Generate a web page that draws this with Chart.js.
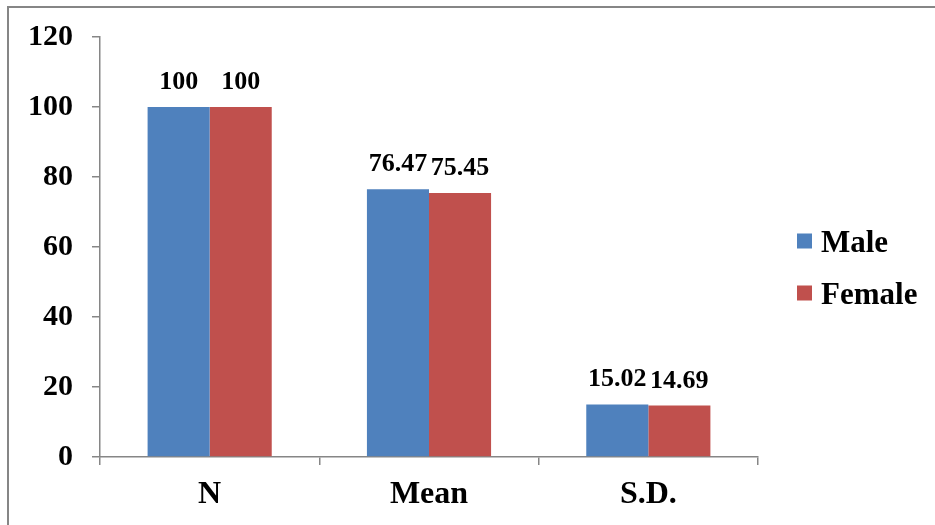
<!DOCTYPE html>
<html>
<head>
<meta charset="utf-8">
<script src="https://cdn.jsdelivr.net/npm/chart.js@4/dist/chart.umd.min.js"></script>
<style>
  html, body { margin: 0; padding: 0; background: #ffffff; }
  #wrap { width: 935px; height: 525px; position: relative; }
</style>
</head>
<body>
<div id="wrap"><canvas id="c" width="935" height="525"></canvas></div>
<script>
const categories = ["N", "Mean", "S.D."];
const maleValues = [100, 76.47, 15.02];
const femaleValues = [100, 75.45, 14.69];
const seriesNames = ["Male", "Female"];
const yTicks = [0, 20, 40, 60, 80, 100, 120];

const MALE_COLOR = "#4F81BD";
const FEMALE_COLOR = "#C0504D";
const AXIS_COLOR = "#868686";
const SERIF = "'Liberation Serif', 'Times New Roman', serif";

const framePlugin = {
  id: "frame",
  beforeDraw(chart) {
    const ctx = chart.ctx;
    ctx.save();
    ctx.fillStyle = "#ffffff";
    ctx.fillRect(0, 0, chart.width, chart.height);
    ctx.strokeStyle = AXIS_COLOR;
    ctx.lineWidth = 2;
    ctx.strokeRect(8, 7, chart.width + 20, chart.height + 20);
    ctx.restore();
  }
};

const valueLabelPlugin = {
  id: "valueLabels",
  afterDatasetsDraw(chart) {
    const ctx = chart.ctx;
    ctx.save();
    ctx.font = "bold 26px " + SERIF;
    ctx.fillStyle = "#000000";
    ctx.textAlign = "center";
    ctx.textBaseline = "alphabetic";
    chart.data.datasets.forEach((ds, i) => {
      const meta = chart.getDatasetMeta(i);
      meta.data.forEach((el, j) => {
        ctx.fillText(String(ds.data[j]), el.x, el.y - 18);
      });
    });
    ctx.restore();
  }
};

const legendPlugin = {
  id: "customLegend",
  afterDraw(chart) {
    const ctx = chart.ctx;
    ctx.save();
    ctx.font = "bold 31px " + SERIF;
    ctx.textAlign = "left";
    ctx.textBaseline = "alphabetic";
    const startY = 241;
    const step = 52;
    chart.data.datasets.forEach((ds, i) => {
      const cy = startY + i * step;
      ctx.fillStyle = ds.backgroundColor;
      ctx.fillRect(797, cy - 7.5, 15, 15);
      ctx.fillStyle = "#000000";
      ctx.fillText(ds.label, 821, cy + 11);
    });
    ctx.restore();
  }
};

new Chart(document.getElementById("c"), {
  type: "bar",
  data: {
    labels: categories,
    datasets: [
      { label: seriesNames[0], data: maleValues, backgroundColor: MALE_COLOR, borderWidth: 0 },
      { label: seriesNames[1], data: femaleValues, backgroundColor: FEMALE_COLOR, borderWidth: 0 }
    ]
  },
  options: {
    responsive: false,
    animation: false,
    devicePixelRatio: 1,
    layout: { padding: { top: 37, right: 177, left: 0, bottom: 0 } },
    datasets: { bar: { categoryPercentage: 0.566, barPercentage: 1.0 } },
    plugins: {
      legend: { display: false },
      title: { display: false },
      tooltip: { enabled: false }
    },
    scales: {
      x: {
        offset: true,
        grid: {
          offset: true,
          drawOnChartArea: false,
          drawTicks: true,
          tickLength: 8,
          color: AXIS_COLOR,
          lineWidth: 1.5
        },
        border: { display: true, color: AXIS_COLOR, width: 1.5 },
        ticks: {
          color: "#000000",
          font: { family: SERIF, size: 32, weight: "bold" },
          padding: 11,
          maxRotation: 0
        },
        afterFit(scale) { scale.height = 68; }
      },
      y: {
        min: 0,
        max: 120,
        afterBuildTicks(scale) { scale.ticks = yTicks.map(v => ({ value: v })); },
        grid: {
          drawOnChartArea: false,
          drawTicks: true,
          tickLength: 8,
          color: AXIS_COLOR,
          lineWidth: 1.5
        },
        border: { display: true, color: AXIS_COLOR, width: 1.5 },
        ticks: {
          color: "#000000",
          font: { family: SERIF, size: 30, weight: "bold" },
          padding: 19
        },
        afterFit(scale) { scale.width = 100; }
      }
    }
  },
  plugins: [framePlugin, valueLabelPlugin, legendPlugin]
});
</script>
</body>
</html>
